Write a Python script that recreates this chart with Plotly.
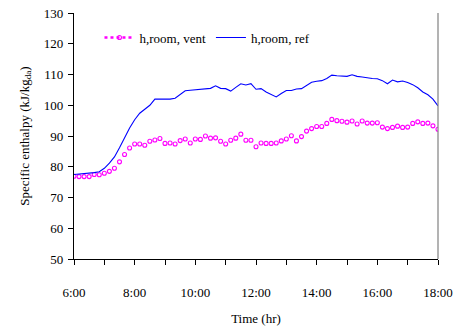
import plotly.graph_objects as go

# time in hours, every 10 minutes from 6:00 to 18:00
time_hr = [6 + i / 6 for i in range(73)]

h_room_vent = [
    76.9, 76.8, 76.8, 76.8, 77.5, 77.4, 77.9, 78.5, 79.5, 81.6,
    84.0, 86.1, 87.4, 87.4, 87.0, 88.3, 88.7, 89.2, 87.6, 87.7,
    87.4, 88.5, 89.0, 87.7, 89.0, 88.9, 90.0, 89.3, 89.4, 88.3,
    87.4, 88.6, 89.3, 90.6, 88.6, 88.6, 86.5, 87.7, 87.6, 87.6,
    87.7, 88.4, 89.0, 90.1, 88.4, 89.8, 91.6, 92.4, 93.1, 93.1,
    94.1, 95.4, 95.0, 94.8, 94.5, 94.9, 93.9, 94.9, 94.2, 94.2,
    94.3, 92.9, 92.4, 92.8, 93.2, 92.8, 92.9, 94.1, 94.6, 94.1,
    94.2, 93.3, 92.2,
]

h_room_ref = [
    77.5, 77.6, 77.7, 77.9, 78.1, 78.4, 79.5, 81.2, 83.2, 86.2,
    89.5, 92.6, 95.3, 97.4, 98.7, 100.0, 102.0, 102.0, 102.0, 102.0,
    102.3, 103.5, 104.7, 104.9, 105.0, 105.2, 105.4, 105.5, 106.3, 105.5,
    105.4, 104.6, 105.8, 107.0, 106.6, 107.0, 105.2, 105.4, 104.3, 103.4,
    102.7, 103.8, 104.8, 104.8, 105.3, 105.4, 106.5, 107.5, 107.8, 108.0,
    108.7, 109.8, 109.6, 109.6, 109.4, 109.9, 109.4, 109.2, 108.9, 108.7,
    108.6, 108.0, 107.0, 108.2, 107.6, 107.9, 107.4, 106.7, 105.7, 104.3,
    103.4, 102.0, 99.8,
]

x_tick_vals = list(range(6, 19))
x_tick_text = [f"{h}:00" if h % 2 == 0 else " " for h in x_tick_vals]

FONT = "Liberation Serif"
MAGENTA = "#FF00FF"
BLUE = "#0000FF"

fig = go.Figure()

# vent series: open circle markers (legend shown via a legend-only sample)
fig.add_trace(go.Scatter(
    x=time_hr, y=h_room_vent, mode="markers", showlegend=False,
    marker=dict(symbol="circle-open", size=4, color=MAGENTA, line=dict(width=1.1, color=MAGENTA)),
))
fig.add_trace(go.Scatter(
    x=[None], y=[None], mode="lines+markers", name="h,room, vent",
    line=dict(color=MAGENTA, width=2.5, dash="dot"),
    marker=dict(symbol="circle-open", size=4, color=MAGENTA, line=dict(width=1.1, color=MAGENTA)),
))
fig.add_trace(go.Scatter(
    x=time_hr, y=h_room_ref, mode="lines", name="h,room, ref",
    line=dict(color=BLUE, width=1.1),
))

fig.update_layout(
    width=460, height=328,
    margin=dict(l=74, r=22, t=13, b=69, autoexpand=False),
    paper_bgcolor="white", plot_bgcolor="white",
    font=dict(family=FONT, size=13, color="black"),
    showlegend=True,
    legend=dict(
        orientation="h", x=0.07, y=0.90, xanchor="left", yanchor="middle",
        bgcolor="rgba(0,0,0,0)", font=dict(family=FONT, size=13),
        itemwidth=30, tracegroupgap=0,
    ),
    xaxis=dict(
        range=[6, 18], tickmode="array", tickvals=x_tick_vals, ticktext=x_tick_text,
        showgrid=False, zeroline=False, showline=True, linecolor="black", linewidth=1.2,
        ticks="outside", ticklen=5, tickcolor="black", tickwidth=1,
        ticklabelstandoff=16,
        tickfont=dict(family=FONT, size=13),
        title=dict(text="Time (hr)", font=dict(family=FONT, size=13), standoff=15),
    ),
    yaxis=dict(
        range=[50, 130], dtick=10, tick0=50,
        showgrid=False, zeroline=False, showline=True, linecolor="black", linewidth=1.2,
        ticks="outside", ticklen=5, tickcolor="black", tickwidth=1,
        ticklabelstandoff=2,
        tickfont=dict(family=FONT, size=13),
        title=dict(text="Specific enthalpy (kJ/kg<sub>da</sub>)", font=dict(family=FONT, size=13), standoff=11),
    ),
    shapes=[dict(type="line", xref="paper", yref="paper", x0=1, x1=1, y0=0, y1=1,
                 line=dict(color="#808080", width=1.2))],
)

fig.write_html(
    "out.html",
    config={"displayModeBar": False},
    post_script="document.body.style.margin='0';document.body.style.overflow='hidden';",
)
